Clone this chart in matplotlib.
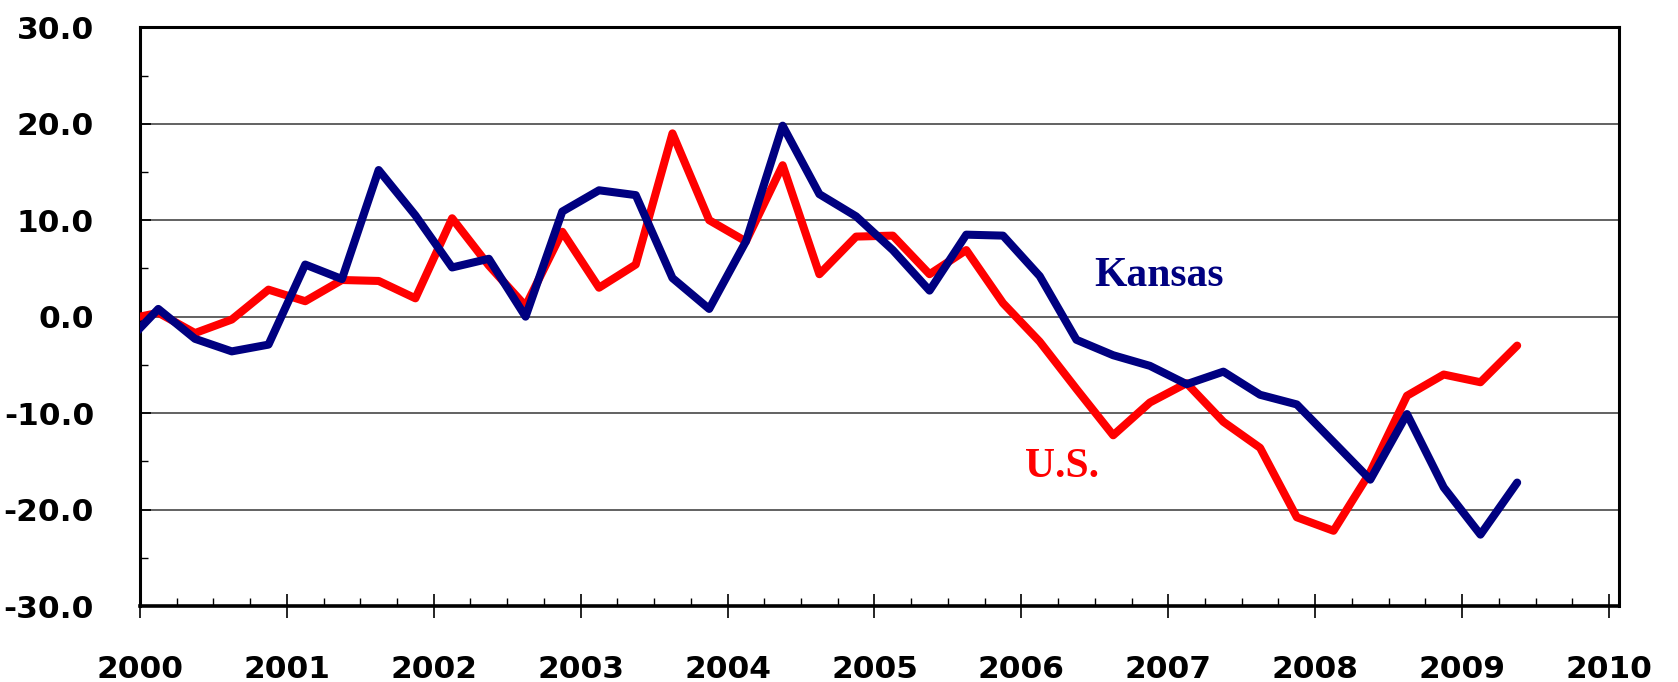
import matplotlib
matplotlib.use("Agg")
import matplotlib.pyplot as plt
import numpy as np
from matplotlib.ticker import MultipleLocator, FormatStrFormatter

# Quarterly data, 1999Q4 .. 2009Q2 (points plotted at the middle of each quarter)
quarters = ["1999Q4",
            "2000Q1", "2000Q2", "2000Q3", "2000Q4",
            "2001Q1", "2001Q2", "2001Q3", "2001Q4",
            "2002Q1", "2002Q2", "2002Q3", "2002Q4",
            "2003Q1", "2003Q2", "2003Q3", "2003Q4",
            "2004Q1", "2004Q2", "2004Q3", "2004Q4",
            "2005Q1", "2005Q2", "2005Q3", "2005Q4",
            "2006Q1", "2006Q2", "2006Q3", "2006Q4",
            "2007Q1", "2007Q2", "2007Q3", "2007Q4",
            "2008Q1", "2008Q2", "2008Q3", "2008Q4",
            "2009Q1", "2009Q2"]

kansas = [-3.2,
          0.8, -2.3, -3.6, -2.9,
          5.4, 3.9, 15.2, 10.5,
          5.1, 6.0, 0.0, 10.9,
          13.1, 12.6, 4.0, 0.8,
          7.8, 19.8, 12.7, 10.4,
          6.9, 2.7, 8.5, 8.4,
          4.2, -2.4, -4.0, -5.1,
          -7.0, -5.7, -8.1, -9.1,
          -13.0, -16.9, -10.1, -17.7,
          -22.6, -17.2]

us = [-0.4,
      0.4, -1.7, -0.3, 2.8,
      1.6, 3.8, 3.7, 1.9,
      10.2, 5.3, 1.1, 8.8,
      3.0, 5.4, 19.0, 10.0,
      7.8, 15.7, 4.4, 8.3,
      8.4, 4.4, 6.9, 1.4,
      -2.6, -7.5, -12.3, -8.9,
      -6.9, -10.9, -13.6, -20.8,
      -22.2, -16.1, -8.2, -6.0,
      -6.8, -3.0]

year_ticks = list(range(2000, 2011))
y_ticks = [-30, -20, -10, 0, 10, 20, 30]

x = np.array([int(q[:4]) + (int(q[-1]) - 0.5) / 4.0 for q in quarters])

fig = plt.figure(figsize=(16.78, 6.82), dpi=100)
ax = fig.add_axes([0.0834, 0.1114, 0.965 - 0.0834, 0.960 - 0.1114])

ax.plot(x, us, color="#FF0000", lw=5.8, solid_joinstyle="round", solid_capstyle="round", zorder=3)
ax.plot(x, kansas, color="#000080", lw=5.8, solid_joinstyle="round", solid_capstyle="round", zorder=4)

ax.set_xlim(2000, 2010.07)
ax.set_ylim(-30, 30)

ax.set_yticks(y_ticks)
ax.yaxis.set_minor_locator(MultipleLocator(5))
ax.yaxis.set_major_formatter(FormatStrFormatter("%.1f"))
ax.set_xticks(year_ticks)
ax.set_xticklabels([str(y) for y in year_ticks])
ax.xaxis.set_minor_locator(MultipleLocator(0.25))

for yv in y_ticks[1:-1]:
    ax.axhline(yv, color="#555555", lw=1.3, zorder=1)

ax.tick_params(axis="y", which="major", direction="in", length=8, width=1.2,
               labelsize=22.5, pad=33)
ax.tick_params(axis="y", which="minor", direction="in", length=6, width=1.0)
ax.tick_params(axis="x", which="major", direction="inout", length=17, width=1.2,
               labelsize=22.5, pad=27)
ax.tick_params(axis="x", which="minor", direction="in", length=6, width=1.0)

for lab in ax.get_xticklabels() + ax.get_yticklabels():
    lab.set_fontweight("bold")
    lab.set_family("DejaVu Sans")

for side in ["left", "bottom", "top", "right"]:
    ax.spines[side].set_color("black")
    ax.spines[side].set_linewidth(2.2)
ax.spines["bottom"].set_linewidth(2.6)

ax.text(2006.94, 4.2, "Kansas", color="#000080", fontsize=30, fontweight="bold",
        family="Liberation Serif", ha="center", va="center", zorder=5)
ax.text(2006.28, -15.6, "U.S.", color="#FF0000", fontsize=30, fontweight="bold",
        family="Liberation Serif", ha="center", va="center", zorder=5)

fig.savefig("out.png", dpi=100)
